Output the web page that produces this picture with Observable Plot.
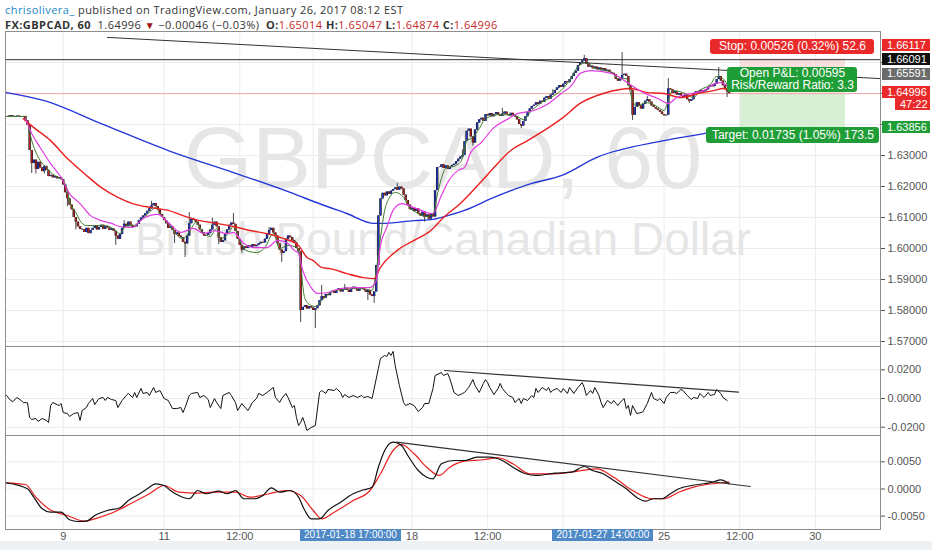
<!DOCTYPE html>
<html><head><meta charset="utf-8">
<script src="https://cdn.jsdelivr.net/npm/d3@7"></script>
<script src="https://cdn.jsdelivr.net/npm/@observablehq/plot@0.6"></script>
<style>
html,body{margin:0;padding:0;background:#fff;}
#wrap{position:relative;width:932px;height:550px;overflow:hidden;font-family:"Liberation Sans",Arial,sans-serif;background:#fff;}
#wrap svg{position:absolute;left:0;}
.hdr{position:absolute;left:5px;font-family:"Open Sans",sans-serif;font-size:11px;letter-spacing:0.45px;color:#333;white-space:nowrap;line-height:13px;}
.hdr b{font-weight:700;}
.rv{color:#c62828;}
.box{position:absolute;color:#fff;font-size:11px;line-height:11px;height:11px;white-space:nowrap;font-family:"Liberation Sans",Arial,sans-serif;}
.lbl{position:absolute;color:#fff;font-size:12px;white-space:nowrap;text-align:center;border-radius:3px;font-family:"Liberation Sans",Arial,sans-serif;}
.xbox{position:absolute;top:529px;height:12px;line-height:12px;background:#4f89c6;color:#fff;font-size:10px;padding:0 4px;white-space:nowrap;}
</style></head><body><div id="wrap"></div><script>
// ---------- data ----------
const closes = [
1.6427,1.6425,1.6428,1.6426,1.6424,1.6427,1.6425,1.6423,1.6426,
1.6412,1.6397,1.6316,1.6274,
1.6285,1.6255,1.6278,1.6260,1.6248,1.6265,1.6252,
1.6232,1.6236,1.6228,1.6232,1.6225,1.6229,1.6222,
1.6205,1.6180,1.6160,1.6140,
1.6125,1.6100,1.6085,1.6070,1.6062,
1.6060,1.6052,1.6065,1.6048,1.6058,
1.6065,1.6072,1.6060,1.6068,1.6075,1.6062,1.6070,1.6066,1.6058,1.6063,
1.6055,1.6040,1.6030,1.6045,
1.6065,1.6078,1.6070,1.6085,1.6075,1.6068,
1.6070,1.6078,1.6090,1.6098,
1.6105,1.6112,1.6120,1.6128,1.6138,1.6145,
1.6135,1.6125,1.6110,1.6100,1.6090,
1.6080,1.6065,1.6070,1.6058,1.6045,1.6050,
1.6040,1.6035,1.6020,1.6015,
1.6040,1.6080,1.6095,1.6092,
1.6085,1.6075,1.6060,
1.6050,1.6040,1.6042,1.6048,1.6060,
1.6075,1.6085,1.6070,
1.6035,1.6020,1.6025,
1.6045,1.6060,1.6075,1.6082,1.6078,
1.6055,1.6030,1.6010,1.5995,1.6005,
1.6000,1.6008,1.6004,1.6012,1.6006,1.6010,1.6015,
1.6020,1.6018,1.6030,1.6045,1.6058,
1.6065,1.6050,1.6040,
1.6015,1.5995,1.5985,1.5990,
1.6030,1.6040,1.6035,1.6025,1.6018,
1.6000,1.5990,
1.5800,
1.5810,1.5815,1.5805,1.5812,1.5808,1.5800,1.5806,1.5815,
1.5832,1.5845,1.5840,1.5852,1.5848,
1.5858,1.5862,1.5855,1.5865,1.5870,1.5860,1.5866,1.5872,1.5865,1.5858,1.5868,1.5875,1.5870,1.5862,1.5868,1.5874,1.5866,1.5858,1.5864,1.5850,
1.5845,1.5860,
1.5945,1.6105,1.6160,
1.6178,1.6170,1.6182,1.6175,1.6185,
1.6190,1.6195,1.6188,1.6198,1.6192,
1.6172,1.6155,1.6140,1.6125,1.6130,
1.6120,1.6128,1.6112,1.6105,1.6118,1.6100,1.6108,1.6095,1.6112,1.6102,
1.6187,1.6261,
1.6262,1.6270,1.6258,1.6266,1.6255,1.6262,1.6268,1.6272,
1.6280,1.6288,1.6295,1.6300,
1.6345,1.6378,1.6385,
1.6360,1.6340,
1.6382,1.6405,
1.6415,1.6420,1.6410,
1.6432,1.6428,1.6435,1.6425,1.6432,1.6438,1.6430,1.6426,1.6434,1.6440,1.6432,1.6428,1.6436,1.6430,1.6424,
1.6415,1.6400,1.6395,1.6410,
1.6425,1.6440,1.6450,1.6458,
1.6462,1.6470,1.6465,1.6475,1.6472,
1.6485,1.6490,1.6482,1.6495,1.6500,
1.6510,1.6518,1.6525,1.6520,1.6530,
1.6538,1.6535,1.6545,
1.6555,1.6565,1.6572,
1.6590,1.6600,1.6605,
1.6612,
1.6595,1.6585,1.6588,1.6580,
1.6585,1.6578,1.6582,1.6576,1.6580,1.6572,1.6575,1.6568,1.6565,1.6560,
1.6545,1.6540,1.6548,
1.6558,1.6562,1.6555,
1.6525,1.6510,
1.6430,
1.6455,1.6470,1.6460,1.6450,
1.6465,1.6475,1.6480,1.6472,
1.6460,1.6455,1.6450,1.6445,
1.6440,1.6432,1.6428,
1.6430,
1.6515,
1.6512,1.6500,1.6505,1.6495,
1.6500,1.6492,1.6488,1.6495,
1.6480,1.6475,1.6480,
1.6500,1.6505,1.6500,1.6510,1.6505,1.6508,1.6512,
1.6520,1.6525,1.6522,1.6530,
1.6545,1.6555,
1.6540,1.6525,
1.6515,1.6505,1.64996
];
// wick extremes beyond the bodies: [bar, price]
const wicks = [[12,1.6242],[14,1.6240],[18,1.6240],[29,1.6135],[33,1.6060],[52,1.6010],[56,1.6090],[69,1.6152],[80,1.6016],[85,1.5971],[87,1.6116],[98,1.6098],[101,1.6012],[108,1.6113],[112,1.5985],[125,1.6068],[131,1.5955],
  [140,1.5761],[147,1.5742],[150,1.5881],[161,1.5884],[172,1.5832],[175,1.5823],[186,1.6210],[199,1.6085],[217,1.6318],[222,1.6330],[236,1.6452],[245,1.6387],[260,1.6512],[275,1.6623],
  [293,1.6632],[298,1.6413],[305,1.6490],[314,1.6429],[315,1.6548],[325,1.6468],[339,1.6584],[343,1.6487]];

const ma200 = [[0,1.6503],[18,1.6477],[45,1.6403],[77,1.6316],[108,1.6245],[135,1.6181],[150,1.6142],[162,1.6113],[175,1.6081],[178,1.6081],[194,1.6090],[203,1.6094],[210,1.6106],[218,1.6123],[232,1.6165],[250,1.6210],[264,1.6235],[281,1.6294],[313,1.6348],[334,1.6374],[344,1.6390]];
const ma50 = [[8,1.6419],[13,1.6390],[21,1.6348],[29,1.6290],[37,1.6242],[45,1.6197],[53,1.6165],[60,1.6145],[69,1.6132],[77,1.6123],[84,1.6106],[92,1.6090],[100,1.6081],[108,1.6071],[116,1.6058],[124,1.6048],[132,1.6032],[137,1.6019],[139,1.6010],[143,1.5971],[146,1.5961],[150,1.5939],[154,1.5935],[162,1.5919],[170,1.5906],[175,1.5903],[178,1.5939],[186,1.5994],[194,1.6026],[202,1.6058],[208,1.6100],[216,1.6145],[226,1.6216],[232,1.6261],[240,1.6316],[248,1.6348],[258,1.6390],[265,1.6423],[273,1.6468],[284,1.6500],[292,1.6513],[297,1.6516],[305,1.6503],[313,1.6500],[321,1.6487],[329,1.6500],[337,1.6510],[341,1.6516],[344,1.6510]];
const ma20 = [[9,1.6419],[12,1.6371],[16,1.6326],[21,1.6274],[26,1.6229],[30,1.6177],[35,1.6145],[40,1.6106],[45,1.6090],[50,1.6081],[54,1.6071],[60,1.6068],[65,1.6097],[72,1.6110],[77,1.6084],[83,1.6052],[89,1.6065],[94,1.6048],[99,1.6058],[105,1.6048],[108,1.6052],[113,1.6016],[118,1.6003],[124,1.6003],[129,1.6026],[134,1.6016],[137,1.5994],[139,1.5984],[141,1.5929],[145,1.5874],[148,1.5855],[153,1.5858],[159,1.5871],[167,1.5874],[173,1.5874],[176,1.5897],[178,1.6010],[181,1.6068],[184,1.6123],[188,1.6145],[194,1.6132],[200,1.6116],[203,1.6113],[207,1.6171],[210,1.6213],[215,1.6252],[218,1.6261],[221,1.6310],[226,1.6342],[232,1.6390],[239,1.6419],[243,1.6435],[251,1.6445],[258,1.6468],[264,1.6500],[269,1.6526],[273,1.6565],[278,1.6574],[288,1.6565],[294,1.6542],[299,1.6519],[303,1.6503],[310,1.6484],[315,1.6468],[319,1.6487],[326,1.6500],[332,1.6510],[337,1.6532],[340,1.6535],[344,1.6519]];
const ma10 = [[0,1.6426],[8,1.6426],[10,1.6406],[12,1.6348],[14,1.6310],[16,1.6284],[19,1.6261],[21,1.6245],[24,1.6232],[27,1.6219],[29,1.6187],[30,1.6155],[33,1.6116],[35,1.6090],[38,1.6074],[42,1.6074],[47,1.6074],[52,1.6058],[54,1.6048],[57,1.6074],[61,1.6074],[65,1.6097],[69,1.6123],[71,1.6132],[73,1.6113],[77,1.6084],[80,1.6052],[84,1.6032],[88,1.6065],[90,1.6084],[94,1.6048],[97,1.6039],[100,1.6065],[102,1.6032],[106,1.6052],[108,1.6071],[111,1.6026],[114,1.5994],[119,1.5987],[123,1.6003],[127,1.6048],[130,1.6000],[134,1.6010],[138,1.6003],[140,1.5955],[141,1.5881],[142,1.5839],[145,1.5816],[147,1.5813],[150,1.5832],[153,1.5852],[159,1.5868],[169,1.5871],[174,1.5865],[176,1.5929],[178,1.6035],[180,1.6123],[182,1.6161],[185,1.6181],[189,1.6165],[191,1.6139],[195,1.6116],[200,1.6103],[203,1.6110],[205,1.6171],[207,1.6226],[209,1.6258],[214,1.6268],[217,1.6290],[219,1.6348],[222,1.6358],[225,1.6387],[228,1.6419],[235,1.6432],[242,1.6429],[246,1.6416],[250,1.6445],[254,1.6468],[259,1.6487],[264,1.6510],[268,1.6542],[272,1.6587],[276,1.6600],[280,1.6581],[288,1.6568],[291,1.6548],[295,1.6548],[298,1.6477],[300,1.6458],[304,1.6471],[309,1.6461],[313,1.6445],[315,1.6477],[317,1.6510],[323,1.6500],[327,1.6487],[330,1.6510],[335,1.6529],[338,1.6555],[341,1.6548],[344,1.6516]];

const momentum = [[0,0.0021],[2,-0.0014],[3,-0.0021],[5,0.0007],[7,-0.0014],[8,-0.0028],[10,-0.0030],[11,-0.0132],[12,-0.0146],[14,-0.0139],[15,-0.0160],[17,-0.0139],[19,-0.0153],[20,-0.0167],[21,-0.0049],[22,-0.0028],[25,-0.0049],[26,-0.0035],[27,-0.0098],[29,-0.0105],[30,-0.0125],[32,-0.0105],[34,-0.0098],[35,-0.0153],[36,-0.0084],[38,-0.0063],[39,-0.0035],[41,0.0000],[42,-0.0042],[44,0.0000],[46,0.0007],[47,-0.0014],[48,0.0007],[50,-0.0007],[52,-0.0014],[53,-0.0063],[55,-0.0014],[57,0.0021],[58,0.0035],[60,0.0007],[61,0.0042],[62,0.0007],[64,0.0070],[65,0.0035],[67,0.0042],[68,0.0021],[70,0.0077],[71,0.0042],[73,0.0056],[75,0.0000],[77,-0.0014],[79,-0.0070],[81,-0.0070],[83,-0.0063],[84,-0.0098],[85,-0.0063],[87,0.0021],[88,0.0035],[91,0.0042],[92,0.0007],[94,0.0021],[96,-0.0007],[97,-0.0063],[99,0.0000],[100,-0.0028],[102,-0.0070],[103,0.0021],[106,0.0042],[107,0.0021],[109,-0.0028],[110,-0.0084],[112,-0.0035],[114,-0.0070],[115,-0.0084],[117,-0.0028],[119,0.0000],[120,0.0035],[122,0.0021],[124,0.0042],[127,0.0077],[128,0.0007],[130,-0.0028],[131,0.0000],[133,0.0035],[134,0.0007],[136,-0.0063],[137,-0.0049],[138,-0.0132],[139,-0.0188],[140,-0.0167],[141,-0.0132],[142,-0.0174],[143,-0.0223],[145,-0.0202],[147,-0.0188],[149,0.0042],[150,0.0056],[152,0.0035],[153,0.0063],[156,0.0056],[157,0.0070],[159,0.0042],[160,0.0007],[161,0.0028],[163,0.0007],[165,0.0021],[167,0.0007],[169,0.0021],[170,0.0007],[172,0.0014],[173,0.0007],[174,0.0000],[175,0.0070],[177,0.0209],[178,0.0279],[180,0.0300],[181,0.0293],[182,0.0321],[183,0.0300],[184,0.0328],[185,0.0230],[187,0.0091],[189,-0.0028],[190,-0.0049],[192,-0.0035],[194,-0.0049],[196,-0.0091],[198,-0.0063],[199,-0.0035],[201,-0.0035],[203,0.0070],[204,0.0160],[207,0.0181],[208,0.0160],[210,0.0174],[211,0.0139],[213,0.0042],[215,0.0021],[217,0.0035],[218,0.0042],[220,0.0077],[222,0.0132],[223,0.0091],[225,0.0042],[227,0.0105],[228,0.0132],[229,0.0111],[230,0.0077],[232,0.0028],[234,0.0070],[235,0.0105],[236,0.0070],[238,0.0035],[239,0.0021],[241,0.0007],[242,-0.0028],[244,0.0000],[245,-0.0035],[246,0.0000],[248,-0.0014],[250,0.0021],[251,0.0007],[252,0.0070],[253,0.0042],[255,0.0077],[257,0.0056],[258,0.0077],[259,0.0042],[260,0.0056],[262,0.0070],[264,0.0042],[265,0.0070],[267,0.0035],[268,0.0077],[270,0.0035],[272,0.0077],[274,0.0111],[275,0.0077],[276,0.0021],[278,0.0056],[279,0.0035],[280,0.0077],[282,0.0021],[283,-0.0028],[284,-0.0063],[286,-0.0014],[288,-0.0035],[289,-0.0014],[291,-0.0049],[292,-0.0028],[294,0.0000],[295,-0.0070],[296,-0.0049],[297,-0.0118],[298,-0.0049],[300,-0.0105],[302,-0.0098],[303,-0.0091],[305,-0.0035],[307,0.0042],[308,0.0000],[310,-0.0014],[311,0.0000],[313,-0.0035],[314,0.0007],[316,0.0042],[318,0.0042],[319,0.0035],[321,0.0063],[322,0.0056],[324,0.0021],[326,-0.0007],[327,0.0007],[329,0.0000],[330,0.0035],[332,0.0007],[334,0.0042],[335,0.0021],[337,0.0028],[338,0.0063],[340,0.0035],[341,0.0007],[343,-0.0014]];

const macd = [[0,0.00114],[10,0.00004],[13,-0.00151],[17,-0.00365],[21,-0.00427],[26,-0.00427],[30,-0.00567],[34,-0.00599],[38,-0.00593],[42,-0.00488],[48,-0.00396],[54,-0.00346],[58,-0.00212],[62,-0.00120],[67,0.00004],[71,0.00096],[75,0.00064],[78,-0.00028],[82,-0.00120],[87,-0.00180],[91,-0.00028],[95,-0.00088],[101,-0.00041],[105,-0.00088],[109,-0.00028],[113,-0.00180],[118,-0.00180],[122,-0.00120],[126,0.00022],[130,-0.00059],[135,-0.00028],[139,-0.00151],[142,-0.00396],[145,-0.00549],[149,-0.00549],[153,-0.00396],[159,-0.00243],[165,-0.00088],[170,-0.00015],[174,0.00033],[177,0.00401],[180,0.00709],[184,0.00862],[188,0.00801],[191,0.00617],[196,0.00341],[200,0.00217],[203,0.00188],[207,0.00464],[213,0.00525],[218,0.00525],[224,0.00586],[230,0.00586],[236,0.00525],[241,0.00401],[247,0.00280],[252,0.00249],[261,0.00291],[269,0.00309],[275,0.00414],[279,0.00341],[284,0.00280],[289,0.00157],[295,0.00004],[301,-0.00180],[304,-0.00225],[308,-0.00180],[312,-0.00180],[316,-0.00088],[320,0.00004],[326,0.00064],[332,0.00096],[336,0.00125],[340,0.00169],[344,0.00096]];
const signal = [[0,0.00114],[9,0.00083],[14,-0.00151],[20,-0.00365],[29,-0.00488],[37,-0.00593],[42,-0.00549],[51,-0.00427],[59,-0.00273],[68,-0.00088],[75,0.00064],[82,-0.00059],[91,-0.00077],[99,-0.00059],[109,-0.00059],[116,-0.00151],[125,-0.00088],[133,-0.00028],[140,-0.00120],[146,-0.00396],[150,-0.00549],[156,-0.00427],[165,-0.00212],[173,-0.00028],[178,0.00280],[184,0.00709],[188,0.00820],[194,0.00648],[200,0.00401],[206,0.00249],[211,0.00401],[218,0.00512],[227,0.00538],[234,0.00575],[241,0.00464],[249,0.00280],[261,0.00280],[272,0.00328],[281,0.00372],[289,0.00217],[298,-0.00028],[307,-0.00180],[313,-0.00180],[320,-0.00059],[327,0.00033],[336,0.00096],[344,0.00125]];

// drawings
const priceTrend = [[48,1.6681],[416,1.6548]];
const momTrend = [[208.5,0.0195],[348.4,0.0045]];
const macdTrend = [[185.6,0.00862],[354,0.00046]];
const stopLine = 1.66091;
const lastPrice = 1.64996;
const toolSpan = [349.4, 399.3];
const entry = 1.65591, stopPrice = 1.66117, targetPrice = 1.63856;

// ticks (labels of 1.64/1.65/1.66 are hidden behind the price boxes)
const priceTicks = [1.57,1.58,1.59,1.60,1.61,1.62,1.63,1.64,1.65,1.66];
const priceTickLabels = ["1.57000","1.58000","1.59000","1.60000","1.61000","1.62000","1.63000","","",""];
const momTicks = [-0.02,0,0.02];
const macdTicks = [-0.005,0,0.005];
const timeTicks = [27,75,111,146,193,229,265,313,349,385];
const timeLabels = ["9","11","12:00","","18","12:00","","25","12:00","30"];
const crossIdx = [164, 284.1];
const crossText = ["2017-01-18 17:00:00","2017-01-27 14:00:00"];

// ---------- build ----------
const candles = closes.map((c,i)=>{const o=i?closes[i-1]:c;return {i,open:o,close:c,high:Math.max(o,c),low:Math.min(o,c)};});
for (const [i,p] of wicks){ if(p>candles[i].high) candles[i].high=p; if(p<candles[i].low) candles[i].low=p; }

const wrap = document.getElementById("wrap");
const FONT = "Liberation Sans, Arial, sans-serif";
const xDomain = [-0.48, 416];
const X = d=>d[0], Y = d=>d[1];
const gridC = "#ececec";
const axisOpts = {anchor:"right", tickSize:4, tickPadding:3, color:"#555"};

const main = Plot.plot({
  width:932, height:315, marginLeft:5, marginRight:52, marginTop:0, marginBottom:0,
  style:{fontFamily:FONT, fontSize:"11px", background:"transparent"},
  x:{domain:xDomain, axis:null},
  y:{domain:[1.56839,1.67], axis:null},
  marks:[
    Plot.ruleX(timeTicks,{stroke:gridC}),
    Plot.ruleY(priceTicks,{stroke:gridC}),
    Plot.text(["GBPCAD, 60"],{text:d=>d, frameAnchor:"top", lineAnchor:"middle", dy:128, fontSize:88, fill:"#e6e6e6"}),
    Plot.text(["British Pound/Canadian Dollar"],{text:d=>d, frameAnchor:"top", lineAnchor:"middle", dy:209, fontSize:46, fill:"#e6e6e6"}),
    Plot.rect([{y1:entry,y2:stopPrice}],{x1:toolSpan[0],x2:toolSpan[1],y1:"y1",y2:"y2",fill:"#f7caca",fillOpacity:0.6}),
    Plot.rect([{y1:lastPrice,y2:entry}],{x1:toolSpan[0],x2:toolSpan[1],y1:"y1",y2:"y2",fill:"#f7caca",fillOpacity:0.45}),
    Plot.rect([{y1:targetPrice,y2:lastPrice}],{x1:toolSpan[0],x2:toolSpan[1],y1:"y1",y2:"y2",fill:"#cdebc8",fillOpacity:0.8}),
    Plot.ruleY([stopLine],{stroke:"#333",strokeWidth:1}),
    Plot.ruleY([lastPrice],{stroke:"#f3a5a5",strokeWidth:1}),
    Plot.line(ma200,{x:X,y:Y,stroke:"#2536d9",strokeWidth:1.4,curve:"monotone-x"}),
    Plot.ruleX(candles,{x:"i",y1:"low",y2:"high",stroke:"#1a1a1a",strokeWidth:0.8}),
    Plot.ruleX(candles,{x:"i",y1:"open",y2:"close",stroke:"#141414",strokeWidth:2.4}),
    Plot.ruleX(candles,{x:"i",y1:"open",y2:"close",stroke:d=>d.close>=d.open?"#2236c4":"#b52424",strokeWidth:1.3}),
    Plot.line(ma10,{x:X,y:Y,stroke:"#3d7a2a",strokeWidth:1,curve:"monotone-x"}),
    Plot.line(ma50,{x:X,y:Y,stroke:"#ec2020",strokeWidth:1.4,curve:"monotone-x"}),
    Plot.line(ma20,{x:X,y:Y,stroke:"#e23de2",strokeWidth:1.2,curve:"monotone-x"}),
    Plot.line(priceTrend,{x:X,y:Y,stroke:"#333",strokeWidth:1,clip:true}),
    Plot.axisY({...axisOpts, ticks:priceTicks, tickFormat:(d,i)=>priceTickLabels[i]}),
    Plot.frame({stroke:"#8e8e8e"})
  ]
});
main.style.top="31px"; wrap.appendChild(main);

const p2 = Plot.plot({
  width:932, height:89, marginLeft:5, marginRight:52, marginTop:0, marginBottom:0,
  style:{fontFamily:FONT, fontSize:"11px", background:"transparent"},
  x:{domain:xDomain, axis:null},
  y:{domain:[-0.02578,0.03624], axis:null},
  marks:[
    Plot.ruleX(timeTicks,{stroke:gridC}),
    Plot.ruleY(momTicks,{stroke:gridC}),
    Plot.line(momentum,{x:X,y:Y,stroke:"#111",strokeWidth:1}),
    Plot.line(momTrend,{x:X,y:Y,stroke:"#333",strokeWidth:1.2}),
    Plot.axisY({...axisOpts, ticks:momTicks, tickFormat:d=>d.toFixed(4)}),
    Plot.frame({stroke:"#8e8e8e"})
  ]
});
p2.style.top="346px"; wrap.appendChild(p2);

const p3 = Plot.plot({
  width:932, height:106, marginLeft:5, marginRight:52, marginTop:0, marginBottom:12,
  style:{fontFamily:FONT, fontSize:"11px", background:"transparent"},
  x:{domain:xDomain, axis:null},
  y:{domain:[-0.00746,0.00985], axis:null},
  marks:[
    Plot.ruleX(timeTicks,{stroke:gridC}),
    Plot.ruleY(macdTicks,{stroke:gridC}),
    Plot.line(signal,{x:X,y:Y,stroke:"#e8201e",strokeWidth:1.2,curve:"monotone-x"}),
    Plot.line(macd,{x:X,y:Y,stroke:"#111",strokeWidth:1.2,curve:"monotone-x"}),
    Plot.line(macdTrend,{x:X,y:Y,stroke:"#333",strokeWidth:1.2}),
    Plot.axisY({...axisOpts, ticks:macdTicks, tickFormat:d=>d.toFixed(4)}),
    Plot.axisX({ticks:timeTicks, tickFormat:(d,i)=>timeLabels[i], tickSize:0, tickPadding:3, color:"#555"}),
    Plot.frame({stroke:"#8e8e8e"})
  ]
});
p3.style.top="435px"; wrap.appendChild(p3);

// ---------- overlays ----------
const sx = main.scale("x"), sy = main.scale("y");
const py = p => 31 + sy.apply(p);
function el(cls, html, css){const d=document.createElement("div");d.className=cls;d.innerHTML=html;Object.assign(d.style,css);wrap.appendChild(d);return d;}

// header
el("hdr",'<span style="color:#2186c8">chrisolivera_</span> published on TradingView.com, January 26, 2017 08:12 EST',{top:"3px"});
el("hdr",'<b>FX:GBPCAD, 60</b>&nbsp; 1.64996 <span style="color:#9a1414;font-size:10px">&#9660;</span> \u22120.00046 (\u22120.03%) &nbsp;<b>O:</b><span class="rv">1.65014</span> <b>H:</b><span class="rv">1.65047</span> <b>L:</b><span class="rv">1.64874</span> <b>C:</b><span class="rv">1.64996</span>',{top:"18px"});

// right-axis price boxes
const axisBoxes = [
  {p:stopPrice, t:"1.66117", bg:"#ea2a2a", dy:-13},
  {p:stopLine, t:"1.66091", bg:"#111", dy:0},
  {p:entry, t:"1.65591", bg:"#6b6b6b", dy:-1},
  {p:lastPrice, t:"1.64996", bg:"#ea2a2a", dy:-1},
  {p:lastPrice, t:"47:22", bg:"#ea2a2a", dy:11, left:895},
  {p:targetPrice, t:"1.63856", bg:"#1f9e37", dy:-1}
];
for (const b of axisBoxes){
  const left = b.left||882;
  el("box",b.t,{left:left+"px",width:(930-left-5)+"px",top:(py(b.p)+b.dy-6)+"px",background:b.bg,padding:"0.5px 0 0.5px 5px"});
}

// position tool labels
const cx = sx.apply((toolSpan[0]+toolSpan[1])/2);
const l1 = el("lbl","Stop: 0.00526 (0.32%) 52.6",{background:"#ea2a2a",height:"15px",lineHeight:"15px",width:"164px"});
l1.style.left=(cx-82)+"px"; l1.style.top=(py(stopPrice)-19)+"px";
const l2 = el("lbl","Open P&amp;L: 0.00595<br>Risk/Reward Ratio: 3.3",{background:"#1f9e37",height:"25px",lineHeight:"12.5px",width:"130px"});
l2.style.left=(cx-65)+"px"; l2.style.top=(py(entry)-8)+"px";
const l3 = el("lbl","Target: 0.01735 (1.05%) 173.5",{background:"#1f9e37",height:"16px",lineHeight:"16px",width:"173px"});
l3.style.left=(cx-86)+"px"; l3.style.top=(py(targetPrice)-1)+"px";

// time-axis crosshair boxes
const sx3 = p3.scale("x");
crossIdx.forEach((ix,k)=>{const d=el("xbox",crossText[k],{});d.style.left=(sx3.apply(ix)-d.offsetWidth/2)+"px";});

el("",'',{position:"absolute",left:"0",top:"541px",width:"932px",height:"9px",background:"#eef1f4"});
</script></body></html>
